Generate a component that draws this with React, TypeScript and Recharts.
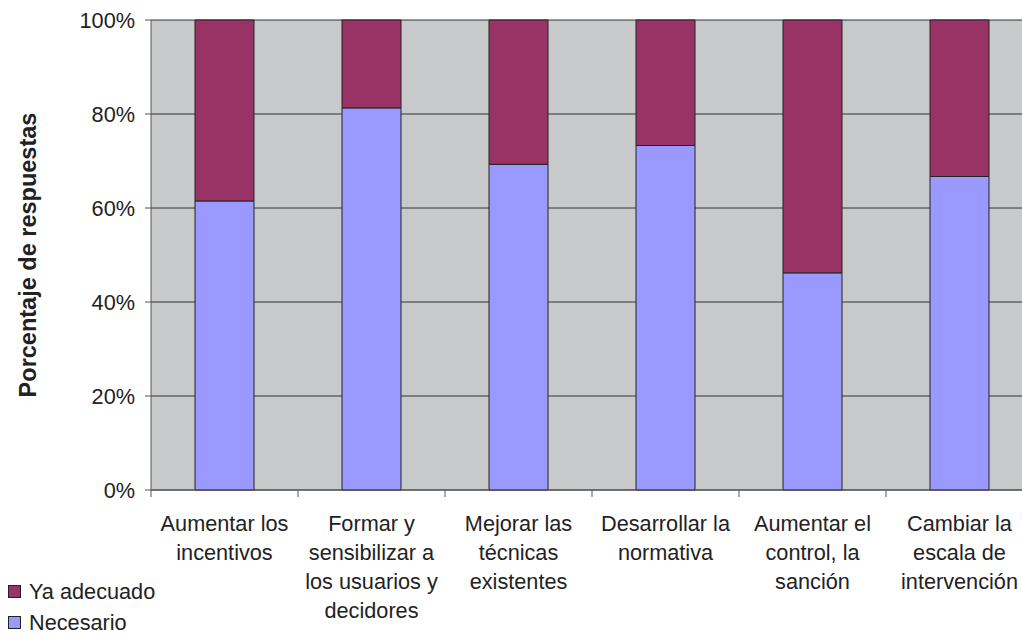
import {
    Bar,
    BarChart,
    CartesianGrid,
    XAxis,
    YAxis,
} from "recharts";

const categories = [
    "Aumentar los\nincentivos",
    "Formar y\nsensibilizar a\nlos usuarios y\ndecidores",
    "Mejorar las\ntécnicas\nexistentes",
    "Desarrollar la\nnormativa",
    "Aumentar el\ncontrol, la\nsanción",
    "Cambiar la\nescala de\nintervención",
];
const necesario = [61.5, 81.3, 69.3, 73.3, 46.2, 66.7];
const yaAdecuado = necesario.map((v) => 100 - v);
const yTicks = [0, 20, 40, 60, 80, 100];

const series = [
    { key: "yaAdecuado", name: "Ya adecuado", color: "#993366" },
    { key: "necesario", name: "Necesario", color: "#9999FF" },
];

const data = categories.map((category, i) => ({
    category,
    necesario: necesario[i],
    yaAdecuado: yaAdecuado[i],
}));

const FONT = "Liberation Sans, Arial, sans-serif";
const TEXT = "#222";

function CategoryTick(props: any) {
    const { x, payload } = props;
    const lines = String(payload.value).split("\n");
    const half = 73.5;
    return (
        <g>
            <line x1={x - half} x2={x - half} y1={490} y2={497} stroke="#555" />
            <text
                x={x}
                y={531}
                textAnchor="middle"
                fontFamily={FONT}
                fontSize={21.7}
                fill={TEXT}
            >
                {lines.map((line, i) => (
                    <tspan key={i} x={x} dy={i === 0 ? 0 : 29}>
                        {line}
                    </tspan>
                ))}
            </text>
        </g>
    );
}

export default function App() {
    return (
        <div
            style={{
                position: "fixed",
                top: 0,
                left: 0,
                width: 1022,
                height: 635,
                overflow: "hidden",
                background: "#fff",
            }}
        >
            <BarChart
                width={1040}
                height={635}
                data={data}
                margin={{ top: 20, right: 7, bottom: 0, left: 0 }}
            >
                <CartesianGrid
                    vertical={false}
                    stroke="#333"
                    fill="#C8C9CB"
                    fillOpacity={1}
                />
                <XAxis
                    dataKey="category"
                    tick={<CategoryTick />}
                    tickLine={false}
                    axisLine={{ stroke: "#555" }}
                    interval={0}
                    height={145}
                />
                <YAxis
                    width={151}
                    domain={[0, 100]}
                    ticks={yTicks}
                    tickFormatter={(v) => `${v}%`}
                    tickSize={6}
                    tickMargin={10}
                    tickLine={{ stroke: "#555" }}
                    axisLine={{ stroke: "#555" }}
                    tick={{ fontSize: 21.7, fontFamily: FONT, fill: TEXT }}
                    label={{
                        content: () => (
                            <text
                                x={36}
                                y={255}
                                transform="rotate(-90 36 255)"
                                textAnchor="middle"
                                fontFamily={FONT}
                                fontWeight="bold"
                                fontSize={23.5}
                                fill={TEXT}
                            >
                                Porcentaje de respuestas
                            </text>
                        ),
                    }}
                />
                <Bar
                    dataKey="necesario"
                    name="Necesario"
                    stackId="a"
                    fill="#9999FF"
                    stroke="#222"
                    strokeWidth={1}
                    barSize={59}
                    isAnimationActive={false}
                />
                <Bar
                    dataKey="yaAdecuado"
                    name="Ya adecuado"
                    stackId="a"
                    fill="#993366"
                    stroke="#222"
                    strokeWidth={1}
                    barSize={59}
                    isAnimationActive={false}
                />
            </BarChart>
            <div
                style={{
                    position: "absolute",
                    left: 8,
                    top: 576,
                    fontFamily: FONT,
                    fontSize: 21.7,
                    color: TEXT,
                }}
            >
                {series.map((s) => (
                    <div
                        key={s.key}
                        style={{ display: "flex", alignItems: "center", height: 31 }}
                    >
                        <span
                            style={{
                                width: 11,
                                height: 11,
                                background: s.color,
                                border: "1px solid #222",
                                marginRight: 8,
                            }}
                        />
                        <span>{s.name}</span>
                    </div>
                ))}
            </div>
        </div>
    );
}
